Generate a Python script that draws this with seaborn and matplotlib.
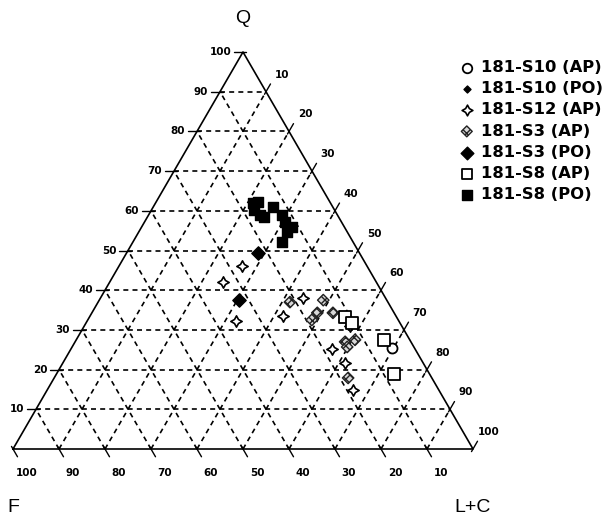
import numpy as np
import pandas as pd
import matplotlib
matplotlib.use("Agg")
import matplotlib.pyplot as plt
import seaborn as sns

# ---------------- data (percentages) ----------------
labels = ["181-S10 (AP)", "181-S10 (PO)", "181-S12 (AP)", "181-S3 (AP)",
          "181-S3 (PO)", "181-S8 (AP)", "181-S8 (PO)"]

s10_ap_q = [25.4]
s10_ap_f = [4.9]
s10_ap_lc = [69.7]

s10_po_q = []
s10_po_f = []
s10_po_lc = []

s12_ap_q = [46.1, 42.1, 32.2, 38.0, 33.5, 31.0, 25.2, 21.7, 14.9]
s12_ap_f = [27.2, 33.3, 35.4, 18.0, 24.6, 11.2, 18.1, 16.9, 18.6]
s12_ap_lc = [26.7, 24.6, 32.4, 44.0, 41.9, 57.8, 56.7, 61.4, 66.5]

s3_ap_q = [37.0, 37.5, 34.3, 32.5, 34.3, 27.0, 25.7, 27.5, 17.9]
s3_ap_f = [21.3, 13.8, 16.7, 18.8, 13.3, 14.3, 14.5, 11.9, 18.2]
s3_ap_lc = [41.7, 48.7, 49.0, 48.7, 52.4, 58.7, 59.8, 60.6, 63.9]

s3_po_q = [49.4, 37.5]
s3_po_f = [22.0, 32.1]
s3_po_lc = [28.6, 30.4]

s8_ap_q = [33.2, 31.7, 27.5, 18.9]
s8_ap_f = [11.2, 10.5, 5.6, 7.7]
s8_ap_lc = [55.6, 57.8, 66.9, 73.4]

s8_po_q = [62.0, 62.2, 60.2, 58.9, 58.4, 61.0, 58.9, 57.2, 55.9, 54.7, 52.1]
s8_po_f = [16.8, 15.6, 17.5, 16.9, 16.2, 13.0, 12.1, 12.3, 11.4, 13.1, 15.5]
s8_po_lc = [21.2, 22.2, 22.3, 24.2, 25.4, 26.0, 29.0, 30.5, 32.7, 32.2, 32.4]

tick_values = [10, 20, 30, 40, 50, 60, 70, 80, 90, 100]
grid_values = [10, 20, 30, 40, 50, 60, 70, 80, 90]
corner_labels = ["Q", "F", "L+C"]

# ---------------- helpers ----------------
H = np.sqrt(3) / 2


def tern(q, f, lc):
    q = np.asarray(q, float)
    f = np.asarray(f, float)
    lc = np.asarray(lc, float)
    s = q + f + lc
    s = np.where(s == 0, 1, s)
    q, lc = 100 * q / s, 100 * lc / s
    return lc + q / 2, q * H


sns.set_theme(style="white")
plt.rcParams["font.family"] = ["DejaVu Sans"]
plt.rcParams["text.color"] = "black"

fig = plt.figure(figsize=(6.08, 5.15), dpi=100)
ax = fig.add_axes([0, 0, 1, 1])
PX = 4.6  # pixels per data unit
ax.set_xlim(-13 / PX, (608 - 13) / PX)
ax.set_ylim(-(515 - 449) / 4.584, 449 / 4.584)
ax.axis("off")

dash = (0, (3, 2.5))
# grid lines
for v in grid_values:
    # constant Q
    x, y = tern([v, v], [100 - v, 0], [0, 100 - v])
    ax.plot(x, y, color="black", lw=1.2, ls=dash, zorder=1)
    # constant L+C
    x, y = tern([0, 100 - v], [100 - v, 0], [v, v])
    ax.plot(x, y, color="black", lw=1.2, ls=dash, zorder=1)
    # constant F
    x, y = tern([0, 100 - v], [v, v], [100 - v, 0])
    ax.plot(x, y, color="black", lw=1.2, ls=dash, zorder=1)

# outline
x, y = tern([0, 0, 100, 0], [100, 0, 0, 100], [0, 100, 0, 0])
ax.plot(x, y, color="black", lw=1.2, zorder=2)

out_len, in_len = 9 / PX, 3 / PX
tick_font = dict(fontsize=7.5, fontweight="bold", color="black")
for v in tick_values:
    # left axis: Q
    px_, py_ = tern([v], [100 - v], [0])
    ax.plot([px_[0] - out_len, px_[0] + in_len], [py_[0], py_[0]], color="black", lw=1.0, zorder=2)
    ax.annotate(str(v), (px_[0] - out_len, py_[0]), xytext=(-2, 0), textcoords="offset points",
                ha="right", va="center", **tick_font)
    # bottom axis: F
    px_, py_ = tern([0], [v], [100 - v])
    d = np.array([0.5, -H])
    ax.plot([px_[0] - d[0] * in_len, px_[0] + d[0] * out_len],
            [py_[0] - d[1] * in_len, py_[0] + d[1] * out_len], color="black", lw=1.0, zorder=2)
    ax.annotate(str(v), (px_[0], py_[0]), xytext=(14 * 0.72, -24 * 0.72), textcoords="offset points",
                ha="center", va="center", **tick_font)
    # right axis: L+C
    px_, py_ = tern([100 - v], [0], [v])
    d = np.array([0.5, H])
    ax.plot([px_[0] - d[0] * in_len, px_[0] + d[0] * out_len],
            [py_[0] - d[1] * in_len, py_[0] + d[1] * out_len], color="black", lw=1.0, zorder=2)
    ax.annotate(str(v), (px_[0], py_[0]), xytext=(16 * 0.72, 17 * 0.72), textcoords="offset points",
                ha="center", va="center", **tick_font)

# corner labels
corner_font = dict(fontsize=14, family=["Liberation Sans", "DejaVu Sans"], color="black")
cx, cy = tern([100, 0, 0], [0, 100, 0], [0, 0, 100])
ax.annotate(corner_labels[0], (cx[0], cy[0]), xytext=(0, 34 * 0.72), textcoords="offset points",
            ha="center", va="center", **corner_font)
ax.annotate(corner_labels[1], (cx[1], cy[1]), xytext=(0, -58 * 0.72), textcoords="offset points",
            ha="center", va="center", **corner_font)
ax.annotate(corner_labels[2], (cx[2], cy[2]), xytext=(0, -58 * 0.72), textcoords="offset points",
            ha="center", va="center", **corner_font)

# ---------------- points ----------------
series = [
    (s10_ap_q, s10_ap_f, s10_ap_lc, dict(marker="o", s=52, facecolor="white", edgecolor="black", linewidth=1.3)),
    (s10_po_q, s10_po_f, s10_po_lc, dict(marker="D", s=14, facecolor="black", edgecolor="black", linewidth=1.0)),
    (s12_ap_q, s12_ap_f, s12_ap_lc, dict(marker=(4, 1, 0), s=66, facecolor="white", edgecolor="black", linewidth=1.2)),
    (s3_ap_q, s3_ap_f, s3_ap_lc, dict(marker="D", s=34, facecolor="#d8d8d8", edgecolor="#222222", linewidth=1.0, hatch="xxxx")),
    (s3_po_q, s3_po_f, s3_po_lc, dict(marker="D", s=46, facecolor="black", edgecolor="black", linewidth=1.0)),
    (s8_ap_q, s8_ap_f, s8_ap_lc, dict(marker="s", s=64, facecolor="white", edgecolor="black", linewidth=1.3)),
    (s8_po_q, s8_po_f, s8_po_lc, dict(marker="s", s=52, facecolor="black", edgecolor="black", linewidth=1.0)),
]

handles = []
for (q, f, lc, style), lab in zip(series, labels):
    if len(q):
        x, y = tern(q, f, lc)
        df = pd.DataFrame({"x": x, "y": y})
        before = len(ax.collections)
        sns.scatterplot(data=df, x="x", y="y", ax=ax, zorder=3, legend=False, **style)
        h = ax.collections[before]
    else:
        h = ax.scatter([], [], zorder=3, **style)
    handles.append(h)

ax.set_xlabel("")
ax.set_ylabel("")
ax.set_xlim(-13 / PX, (608 - 13) / PX)
ax.set_ylim(-(515 - 449) / 4.584, 449 / 4.584)

leg = ax.legend(handles, labels, loc="upper left", bbox_to_anchor=(459 / 608, 1 - 60 / 515),
                bbox_transform=fig.transFigure, frameon=False,
                prop=dict(family="DejaVu Sans", weight="bold", size=11.8),
                handlelength=0.95, handletextpad=0.4, labelspacing=0.38,
                borderpad=0, borderaxespad=0, scatterpoints=1, markerscale=0.95)
for t in leg.get_texts():
    t.set_color("black")

fig.savefig("out.png", dpi=100, facecolor="white")
